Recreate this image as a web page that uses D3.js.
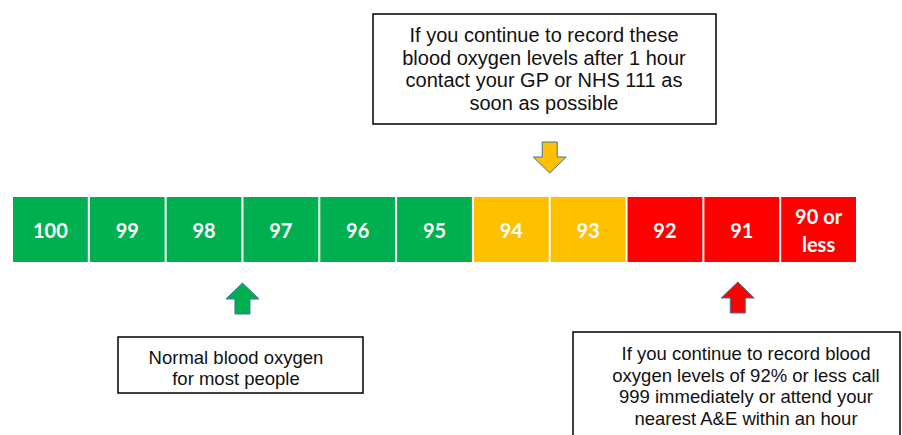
<!DOCTYPE html>
<html>
<head>
<meta charset="utf-8">
<script src="https://cdn.jsdelivr.net/npm/d3@7"></script>
<style>
  body { margin: 0; background: #fff; }
</style>
</head>
<body>
<script>
// oxygen saturation levels, left to right
var levels = ["100", "99", "98", "97", "96", "95", "94", "93", "92", "91", "90 or less"];
var zones = ["normal", "normal", "normal", "normal", "normal", "normal", "amber", "amber", "red", "red", "red"];

var amberNote = ["If you continue to record these", "blood oxygen levels after 1 hour", "contact your GP or NHS 111 as", "soon as possible"];
var normalNote = ["Normal blood oxygen", "for most people"];
var redNote = ["If you continue to record blood", "oxygen levels of 92% or less call", "999 immediately or attend your", "nearest A&E within an hour"];

var zoneColor = { normal: "#00B050", amber: "#FFC000", red: "#FF0000" };

var w = 902, h = 435;
var barTop = 197, barBottom = 262;

var svg = d3.select("body").append("svg")
  .attr("width", w)
  .attr("height", h);

var x = d3.scaleBand()
  .domain(levels)
  .range([12, 857])
  .paddingInner(0);

// the scale cells
var cells = svg.selectAll("g.cell")
  .data(levels)
  .enter()
  .append("g")
  .attr("class", "cell");

cells.append("rect")
  .attr("x", function (d) { return x(d) + 1; })
  .attr("y", barTop)
  .attr("width", x.bandwidth() - 2)
  .attr("height", barBottom - barTop)
  .attr("fill", function (d, i) { return zoneColor[zones[i]]; });

cells.append("text")
  .attr("x", function (d) { return x(d) + x.bandwidth() / 2; })
  .attr("y", function (d) { return d.indexOf(" ") > 0 ? 224 : 238; })
  .attr("text-anchor", "middle")
  .attr("fill", "#fff")
  .attr("font-family", "Lato, 'Open Sans', sans-serif")
  .attr("font-weight", "bold")
  .attr("font-size", 20)
  .each(function (d) {
    var t = d3.select(this);
    if (d.indexOf(" ") > 0) {
      var parts = [d.slice(0, d.lastIndexOf(" ")), d.slice(d.lastIndexOf(" ") + 1)];
      parts.forEach(function (p, i) {
        t.append("tspan")
          .attr("x", x(d) + x.bandwidth() / 2)
          .attr("dy", i === 0 ? 0 : 27.5)
          .text(p);
      });
    } else {
      t.text(d);
    }
  });

// block arrow, tip at (0,0) pointing up
function arrowPath(len, headLen, headW, shaftW) {
  return "M0,0 L" + (headW / 2) + "," + headLen +
    " L" + (shaftW / 2) + "," + headLen +
    " L" + (shaftW / 2) + "," + len +
    " L" + (-shaftW / 2) + "," + len +
    " L" + (-shaftW / 2) + "," + headLen +
    " L" + (-headW / 2) + "," + headLen + " Z";
}

var arrows = [
  { x: x("93"), y: 173, dir: "down", color: zoneColor.amber },
  { x: x("97"), y: 283, dir: "up", color: zoneColor.normal },
  { x: x("91") + x.bandwidth() / 2 - 4, y: 282, dir: "up", color: zoneColor.red }
];

svg.selectAll("path.arrow")
  .data(arrows)
  .enter()
  .append("path")
  .attr("class", "arrow")
  .attr("d", arrowPath(31, 16, 33, 15))
  .attr("transform", function (d) {
    return "translate(" + d.x + "," + d.y + ")" + (d.dir === "down" ? " rotate(180)" : "");
  })
  .attr("fill", function (d) { return d.color; })
  .attr("stroke", "#41719C")
  .attr("stroke-width", 1);

// note boxes
var notes = [
  { lines: amberNote, box: [373, 14, 343, 110], cx: 544, y0: 42, step: 22.7, size: 20 },
  { lines: normalNote, box: [118, 337, 245, 56], cx: 236, y0: 364, step: 21, size: 18.5 },
  { lines: redNote, box: [573, 332, 327, 120], cx: 746, y0: 360, step: 21.6, size: 18.5 }
];

var noteG = svg.selectAll("g.note")
  .data(notes)
  .enter()
  .append("g")
  .attr("class", "note");

noteG.append("rect")
  .attr("x", function (d) { return d.box[0]; })
  .attr("y", function (d) { return d.box[1]; })
  .attr("width", function (d) { return d.box[2]; })
  .attr("height", function (d) { return d.box[3]; })
  .attr("fill", "#fff")
  .attr("stroke", "#000")
  .attr("stroke-width", 1.5);

noteG.each(function (d) {
  d3.select(this).selectAll("text")
    .data(d.lines)
    .enter()
    .append("text")
    .attr("x", d.cx)
    .attr("y", function (l, i) { return d.y0 + i * d.step; })
    .attr("text-anchor", "middle")
    .attr("font-family", "'Liberation Sans', Arial, sans-serif")
    .attr("font-size", d.size)
    .attr("fill", "#111")
    .text(function (l) { return l; });
});
</script>
</body>
</html>
